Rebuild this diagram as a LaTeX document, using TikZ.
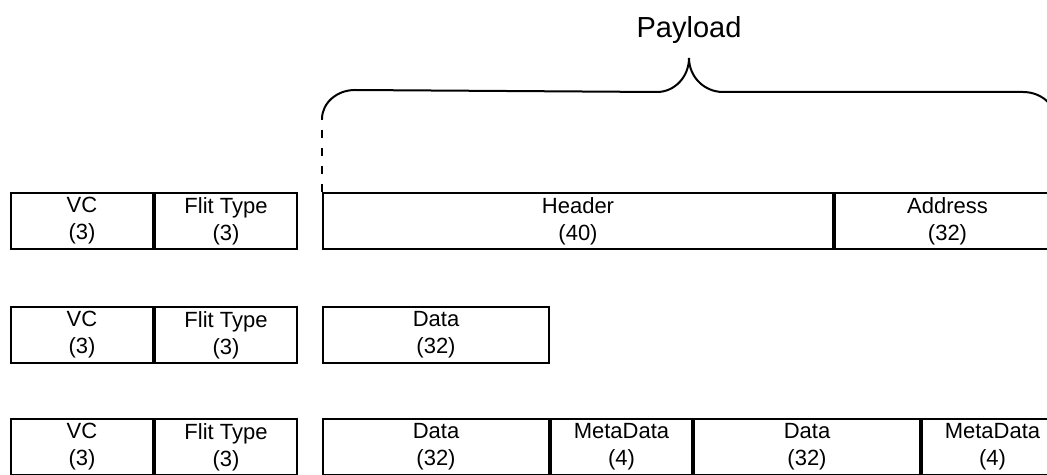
\documentclass[tikz,border=0pt]{standalone}
\usepackage{fontspec}
\setmainfont{Liberation Sans}
\begin{document}
\begin{tikzpicture}[x=1pt,y=1pt,
  field/.style={draw, line width=2pt, inner sep=0pt, anchor=south west,
    minimum height=56pt, align=center,
    font=\fontsize{22}{27}\selectfont},
  bracepart/.style={line width=2pt}]
\useasboundingbox (0,0) rectangle (1047,474);
\clip (0,0) rectangle (1047,474);

% header flit
\node[field, minimum width=142pt] (vc1) at (10,224) {VC\\(3)};
\node[field, minimum width=142pt] (ft1) at (vc1.south east) {Flit Type\\(3)};
\node[field, minimum width=510pt] (hdr) at (322,224) {Header\\(40)};
\node[field, minimum width=225pt] (addr) at (hdr.south east) {Address\\(32)};

% data flit
\node[field, minimum width=142pt] (vc2) at (10,110) {VC\\(3)};
\node[field, minimum width=142pt] (ft2) at (vc2.south east) {Flit Type\\(3)};
\node[field, minimum width=226pt] (dat2) at (322,110) {Data\\(32)};

% data flit with metadata
\node[field, minimum width=142pt] (vc3) at (10,-2) {VC\\(3)};
\node[field, minimum width=142pt] (ft3) at (vc3.south east) {Flit Type\\(3)};
\node[field, minimum width=226pt] (dat3a) at (322,-2) {Data\\(32)};
\node[field, minimum width=141pt] (md3a) at (dat3a.south east) {MetaData\\(4)};
\node[field, minimum width=226pt] (dat3b) at (md3a.south east) {Data\\(32)};
\node[field, minimum width=141pt] (md3b) at (dat3b.south east) {MetaData\\(4)};

% payload brace
\coordinate (bl) at (hdr.north west);
\draw[bracepart, dash pattern=on 8pt off 10pt] (bl) -- ++(0,73) coordinate (bs);
\draw[bracepart] (bs) arc[start angle=180, end angle=90, x radius=33, y radius=29]
  -- (657,382) arc[start angle=270, end angle=360, x radius=32, y radius=34]
  coordinate (tip)
  arc[start angle=180, end angle=270, x radius=34, y radius=34]
  -- (1023,382) arc[start angle=90, end angle=0, x radius=33, y radius=29];
\node[font=\fontsize{29}{32}\selectfont, anchor=south] (pl) at (689,427) {Payload};
\end{tikzpicture}
\end{document}
